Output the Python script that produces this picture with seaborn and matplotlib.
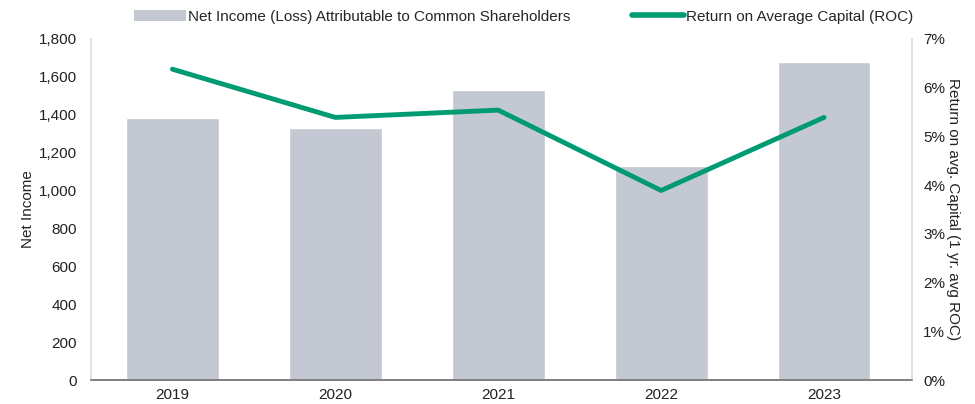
import numpy as np
import seaborn as sns
import matplotlib.pyplot as plt
import pandas as pd
from matplotlib.patches import Patch
from matplotlib.lines import Line2D
from matplotlib.ticker import FuncFormatter

# data
years = ["2019", "2020", "2021", "2022", "2023"]
net_income = [1385, 1329, 1531, 1130, 1677]
roc_pct = [6.38, 5.39, 5.54, 3.89, 5.39]

bar_label = "Net Income (Loss) Attributable to Common Shareholders"
line_label = "Return on Average Capital (ROC)"

bar_color = "#C4C8D3"
line_color = "#009B72"

df = pd.DataFrame({"Year": years, "NetIncome": net_income, "ROC": roc_pct})

sns.set_theme(style="white")
plt.rcParams["font.family"] = ["Liberation Sans", "DejaVu Sans"]

fig = plt.figure(figsize=(9.75, 4.04), dpi=100)
ax = fig.add_axes([0.0933, 0.0594, 0.8421, 0.8441])

# bars on the left axis
sns.barplot(data=df, x="Year", y="NetIncome", color=bar_color, width=0.57,
            saturation=1, ax=ax)
ax.set_ylim(0, 1800)
ax.set_yticks(np.arange(0, 1801, 200))
ax.yaxis.set_major_formatter(FuncFormatter(lambda v, p: f"{int(v):,}"))
ax.set_xlim(-0.5, 4.54)
ax.set_xlabel("")
ax.set_ylabel("Net Income", fontsize=11, color="#222222", labelpad=3)

# line on the right axis
ax2 = ax.twinx()
sns.lineplot(x=np.arange(len(years)), y=df["ROC"], color=line_color,
             linewidth=3.5, ax=ax2)
ax2.set_ylim(0, 7)
ax2.set_yticks(np.arange(0, 8, 1))
ax2.yaxis.set_major_formatter(FuncFormatter(lambda v, p: f"{int(v)}%"))
ax2.set_ylabel("Return on avg. Capital (1 yr. avg ROC)", fontsize=11,
               color="#222222", rotation=270, labelpad=11)

for a in (ax, ax2):
    a.tick_params(axis="both", length=0, labelsize=11, colors="#222222")
    a.spines["top"].set_visible(False)
    a.spines["left"].set_color("#E0E0E0")
    a.spines["right"].set_color("#E0E0E0")
    a.spines["bottom"].set_color("#7F7F7F")
    a.spines["bottom"].set_linewidth(1.2)
    a.grid(False)
ax.tick_params(axis="y", pad=10)
ax.tick_params(axis="x", pad=6)
ax2.tick_params(axis="y", pad=8)

handles = [Patch(facecolor=bar_color, edgecolor="none"),
           Line2D([0], [0], color=line_color, linewidth=4, solid_capstyle="round")]
fig.legend(handles, [bar_label, line_label], loc="upper center",
           bbox_to_anchor=(0.537, 1.01), ncol=2, frameon=False, fontsize=11,
           handlelength=3.4, handleheight=0.7, handletextpad=0.15,
           columnspacing=4.0)

fig.savefig("out.png", dpi=100)
